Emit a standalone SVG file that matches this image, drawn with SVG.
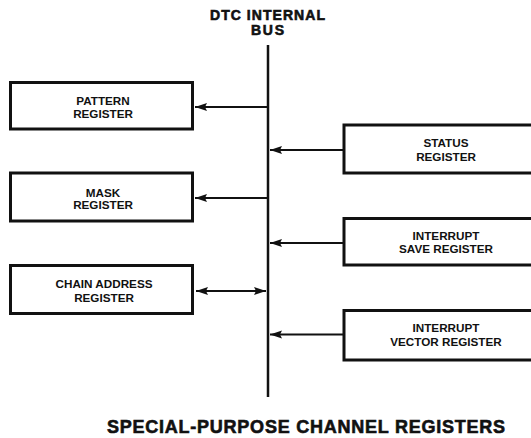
<svg xmlns="http://www.w3.org/2000/svg" width="531" height="438" viewBox="0 0 531 438">
<style>
.box{fill:#fff;stroke:#111;stroke-width:3}
.lbl{font-family:"Liberation Sans",Arial,sans-serif;font-weight:bold;font-size:11.7px;fill:#111;text-anchor:middle}
.ttl{font-family:"Liberation Sans",Arial,sans-serif;font-weight:bold;fill:#111;stroke:#111;stroke-width:0.6;text-anchor:middle}
.con{stroke:#111;stroke-width:2;fill:none}
</style>
<defs>
<marker id="ah" markerUnits="userSpaceOnUse" markerWidth="14" markerHeight="10" refX="12" refY="5" orient="auto-start-reverse">
<polygon points="0,1 12,5 0,9 2,5" fill="#111"/>
</marker>
</defs>
<rect width="531" height="438" fill="#fff"/>
<g id="title">
<text class="ttl" x="267.5" y="20" font-size="14" textLength="115" lengthAdjust="spacing">DTC INTERNAL</text>
<text class="ttl" x="267.5" y="35" font-size="14" textLength="33" lengthAdjust="spacing">BUS</text>
</g>
<g id="bus">
<line x1="268" y1="45" x2="268" y2="397" stroke="#111" stroke-width="2.5"/>
</g>
<g id="pattern">
<rect class="box" x="10.5" y="82.5" width="182" height="46.5"/>
<text class="lbl" x="103" y="105">PATTERN</text>
<text class="lbl" x="103" y="118.3">REGISTER</text>
</g>
<g id="mask">
<rect class="box" x="10.5" y="173" width="182" height="48"/>
<text class="lbl" x="103" y="196.5">MASK</text>
<text class="lbl" x="103" y="209.3">REGISTER</text>
</g>
<g id="chain">
<rect class="box" x="10.5" y="265.5" width="182" height="48"/>
<text class="lbl" x="104" y="287.5">CHAIN ADDRESS</text>
<text class="lbl" x="104" y="301.5">REGISTER</text>
</g>
<g id="status">
<rect class="box" x="344" y="125" width="200" height="48"/>
<text class="lbl" x="446" y="146.7">STATUS</text>
<text class="lbl" x="446" y="160.5">REGISTER</text>
</g>
<g id="save">
<rect class="box" x="344" y="218.5" width="200" height="46.5"/>
<text class="lbl" x="446" y="239.5">INTERRUPT</text>
<text class="lbl" x="446" y="253.3">SAVE REGISTER</text>
</g>
<g id="vector">
<rect class="box" x="344" y="310.5" width="200" height="49.5"/>
<text class="lbl" x="446" y="331.5">INTERRUPT</text>
<text class="lbl" x="446" y="345.5">VECTOR REGISTER</text>
</g>
<g id="connectors">
<line class="con" x1="268" y1="107" x2="195" y2="107" marker-end="url(#ah)"/>
<line class="con" x1="268" y1="198" x2="195" y2="198" marker-end="url(#ah)"/>
<line class="con" x1="196" y1="291" x2="266" y2="291" marker-start="url(#ah)" marker-end="url(#ah)"/>
<line class="con" x1="344" y1="150" x2="270" y2="150" marker-end="url(#ah)"/>
<line class="con" x1="344" y1="243" x2="270" y2="243" marker-end="url(#ah)"/>
<line class="con" x1="344" y1="334.5" x2="270" y2="334.5" marker-end="url(#ah)"/>
</g>
<g id="caption">
<text class="ttl" x="306" y="432.7" font-size="18" textLength="398" lengthAdjust="spacing">SPECIAL-PURPOSE CHANNEL REGISTERS</text>
</g>
</svg>
